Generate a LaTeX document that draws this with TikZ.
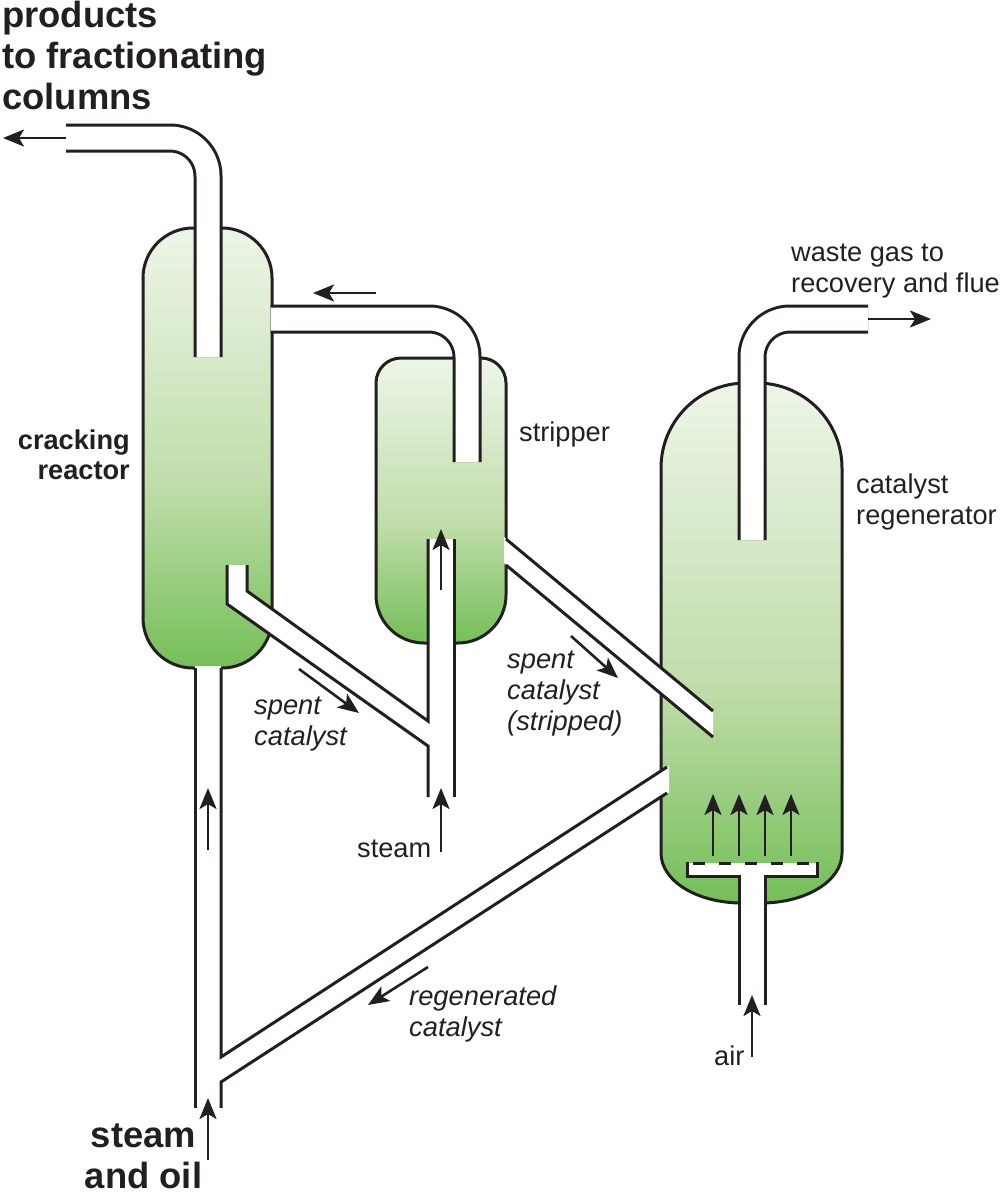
\documentclass[tikz,border=0pt]{standalone}
\usepackage{fontspec}
\setmainfont{Liberation Sans}
\usetikzlibrary{arrows.meta}
\definecolor{vesseltop}{HTML}{EDF5E8}
\definecolor{vesselmid}{HTML}{C0DDAA}
\definecolor{vesselbot}{HTML}{74BF58}
\definecolor{inktone}{HTML}{231F20}
\pgfdeclareverticalshading{vessel}{100bp}{color(0bp)=(vesselbot); color(25bp)=(vesselbot); color(46bp)=(vesselmid); color(75bp)=(vesseltop); color(100bp)=(vesseltop)}
\tikzstyle{wall} = [draw=inktone,line width=3pt,shading=vessel]
\tikzstyle{rail} = [draw=inktone,line width=3pt]
\tikzstyle{bore} = [fill=white,draw=none]
\tikzstyle{bent} = [draw=inktone,line width=3pt,double=white,double distance=23pt,rounded corners=38pt]
\tikzstyle{flow} = [draw=inktone,line width=2.6pt,->,>={Stealth[length=21pt,width=17pt,inset=5pt]}]
\tikzstyle{label} = [inktone,inner sep=0pt,anchor=base west,align=left,font=\fontsize{27.2}{31}\selectfont]
\tikzstyle{note} = [label,font=\fontsize{27.3}{31}\selectfont\itshape]
\tikzstyle{heavy} = [label,font=\fontsize{36.4}{41}\selectfont\bfseries]
\begin{document}
\begin{tikzpicture}[x=1pt,y=-1pt]
	\useasboundingbox (0,0) rectangle (1000,1192);

	\path[wall,rounded corners=50pt] (143,228) rectangle (272,668);
	\path[wall] (376,383) [rounded corners=25pt] -- (376,358) -- (506,358) -- (506,500) [rounded corners=48pt] -- (506,643) -- (376,643) -- (376,383);
	\path[wall] (661,468) .. controls (661,421) and (699,383) .. (746,383) -- (757,383) .. controls (804,383) and (842,421) .. (842,468) -- (842,853) .. controls (842,881) and (806,903) .. (761,903) -- (742,903) .. controls (697,903) and (661,881) .. (661,853) -- cycle;

	\path[bore] (195,666.4) rectangle (221,1108);
	\path[bore] (428,539) rectangle (454,797);
	\path[bore] (739,876) rectangle (765,1005);
	\path[bore] (687,863) rectangle (817,876);
	\path[bore] (228,565) -- (247,565) -- (247,591) -- (430,722) -- (430,747) -- (228,604) -- cycle;
	\path[bore] (504,537) -- (713,711) -- (713,737) -- (504,563) -- cycle;
	\path[bore] (669,766) -- (669,792) -- (219,1083) -- (219,1057) -- cycle;

	\draw[bent] (66,138) -- (208,138) -- (208,357);
	\draw[bent] (270.5,319) -- (467,319) -- (467,462);
	\draw[bent] (752,540) -- (752,319) -- (868,319);

	\draw[rail] (195,668) -- (195,1108);
	\draw[rail] (221,668) -- (221,1057) -- (667,767);
	\draw[rail] (221,1108) -- (221,1082) -- (667,793);
	\draw[rail] (227,565) -- (227,604) -- (428,746) -- (428,797);
	\draw[rail] (247,565) -- (247,591) -- (428,721) -- (428,539);
	\draw[rail] (454,539) -- (454,797);
	\draw[rail] (506,539) -- (713,711);
	\draw[rail] (506,565) -- (713,737);
	\draw[rail] (687,862) -- (687,876) -- (739,876) -- (739,1005);
	\draw[rail] (817,862) -- (817,876) -- (765,876) -- (765,1005);
	\draw[rail,dash pattern=on 12pt off 14pt] (693,863) -- (810,863);

	\draw[flow] (66,138) -- (3,138);
	\draw[flow] (376,293) -- (313,293);
	\draw[flow] (868,319) -- (931,319);
	\draw[flow] (208,850) -- (208,788);
	\draw[flow] (208,1160) -- (208,1098);
	\draw[flow] (441,852) -- (441,788);
	\draw[flow] (441,590) -- (441,529);
	\draw[flow] (752,1057) -- (752,995);
	\draw[flow] (299,669) -- (359,713);
	\draw[flow] (571,636) -- (618,678);
	\draw[flow] (428,967) -- (368,1005);
	\foreach \airx in {713,739,765,791}
		\draw[flow] (\airx,856) -- (\airx,794);

	\node[heavy] (products) at (2,109) {products\\to fractionating\\columns};
	\node[label,anchor=base east,align=right,font=\fontsize{27.2}{30}\selectfont\bfseries] (reactor) at (130,479) {cracking\\reactor};
	\node[label] (stripper) at (519,441) {stripper};
	\node[label] (waste) at (791,292) {waste gas to\\recovery and flue};
	\node[label] (regenerator) at (856,524) {catalyst\\regenerator};
	\node[note] (spent) at (254,745) {spent\\catalyst};
	\node[note] (stripped) at (507,730) {spent\\catalyst\\(stripped)};
	\node[note] (regenerated) at (409,1036) {regenerated\\catalyst};
	\node[label] (steam) at (357,857) {steam};
	\node[label] (air) at (714,1065) {air};
	\node[heavy,anchor=base,align=center] (feed) at (143.5,1188) {steam\\and oil};
\end{tikzpicture}
\end{document}
